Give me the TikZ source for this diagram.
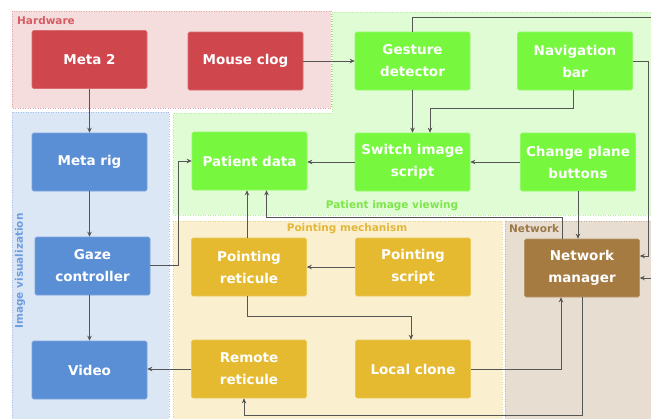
\documentclass[tikz,border=0pt]{standalone}
\usepackage{fontspec}
\setmainfont{DejaVu Sans}
\usetikzlibrary{arrows.meta}
\definecolor{hwfill}{HTML}{F5DCDD}\definecolor{hwline}{HTML}{E3A3A8}\definecolor{hwtext}{HTML}{D65C63}
\definecolor{ivfill}{HTML}{DCE7F5}\definecolor{ivline}{HTML}{A9C4EA}\definecolor{ivtext}{HTML}{6D9DE0}
\definecolor{pvfill}{HTML}{E0FCD5}\definecolor{pvline}{HTML}{B5EFA0}\definecolor{pvtext}{HTML}{7DE648}
\definecolor{pmfill}{HTML}{FAF0D0}\definecolor{pmline}{HTML}{EDD590}\definecolor{pmtext}{HTML}{E3B73A}
\definecolor{nwfill}{HTML}{E8DDD1}\definecolor{nwline}{HTML}{C9B49A}\definecolor{nwtext}{HTML}{9C7847}
\definecolor{cred}{HTML}{CF464D}\definecolor{cblue}{HTML}{5B8FD5}\definecolor{cgreen}{HTML}{77F83F}
\definecolor{cyellow}{HTML}{E5BA31}\definecolor{cbrown}{HTML}{A57B42}\definecolor{lgray}{HTML}{555555}
\begin{document}
\begin{tikzpicture}[x=1pt,y=-1pt,
  box/.style={rounded corners=1.5pt, minimum width=115pt, minimum height=58pt, inner sep=0pt,
    align=center, text=white, font=\bfseries\fontsize{13.5}{22}\selectfont, line width=0.6pt},
  redbox/.style={box, fill=cred, draw=cred!80!white},
  bluebox/.style={box, fill=cblue, draw=cblue!80!white},
  greenbox/.style={box, fill=cgreen, draw=cgreen!80!white},
  yellowbox/.style={box, fill=cyellow, draw=cyellow!80!white},
  brownbox/.style={box, fill=cbrown, draw=cbrown!80!white},
  grp/.style={dotted, line width=0.5pt},
  glabel/.style={font=\bfseries\fontsize{10.5}{12}\selectfont, inner sep=0pt},
  conn/.style={draw=lgray, line width=0.9pt, -{Stealth[length=5pt,width=4.5pt]}},
  plain/.style={draw=lgray, line width=0.9pt}]
\useasboundingbox (0,0) rectangle (651,418);
\fill[white] (0,0) rectangle (651,418);
% groups
\filldraw[grp, fill=pvfill, draw=pvline] (332,12) -- (656,12) -- (656,215) -- (173,215) -- (173,113) -- (332,113) -- cycle;
\filldraw[grp, fill=hwfill, draw=hwline] (12,11) rectangle (331,108);
\filldraw[grp, fill=ivfill, draw=ivline] (12,112) rectangle (169,422);
\filldraw[grp, fill=pmfill, draw=pmline] (173,221) rectangle (502,422);
\filldraw[grp, fill=nwfill, draw=nwline] (505,221) rectangle (656,422);
\node[glabel, text=hwtext, anchor=west] (lhw) at (17,21) {Hardware};
\node[glabel, text=pvtext] (lpv) at (392,206) {Patient image viewing};
\node[glabel, text=pmtext] (lpm) at (347,229) {Pointing mechanism};
\node[glabel, text=nwtext, anchor=west] (lnw) at (509,229) {Network};
\node[glabel, text=ivtext, rotate=90] (liv) at (20,271) {Image visualization};
% nodes
\node[redbox] (meta2) at (89.5,59.5) {Meta 2};
\node[redbox] (mouse) at (245.5,61) {Mouse clog};
\node[greenbox] (gesture) at (412.5,61) {Gesture\\detector};
\node[greenbox] (nav) at (575,61) {Navigation\\bar};
\node[bluebox] (metarig) at (89.5,162) {Meta rig};
\node[greenbox] (patient) at (249.5,161) {Patient data};
\node[greenbox] (switch) at (412.5,162) {Switch image\\script};
\node[greenbox] (change) at (578,162) {Change plane\\buttons};
\node[bluebox] (gaze) at (92.5,266) {Gaze\\controller};
\node[bluebox] (video) at (89.5,370) {Video};
\node[yellowbox] (pret) at (249,267) {Pointing\\reticule};
\node[yellowbox] (pscript) at (413,267) {Pointing\\script};
\node[yellowbox] (rret) at (249,369) {Remote\\reticule};
\node[yellowbox] (lclone) at (413,369) {Local clone};
\node[brownbox] (nm) at (582,268) {Network\\manager};
% connectors
\draw[conn] (mouse) -- (gesture);
\draw[conn] (meta2) -- (metarig);
\draw[conn] (metarig.south) -- (metarig.south |- gaze.north);
\draw[conn] (video.north |- gaze.south) -- (video.north);
\draw[conn] ([yshift=1pt]gaze.east) -- ++(28,0) |- (patient.west);
\draw[conn] ([xshift=-2pt]pret.north) -- ([xshift=-2pt]pret.north |- patient.south);
\draw[conn] ([xshift=-20pt]nm.north) -- ++(0,-21) -| ([xshift=17pt]patient.south);
\draw[conn] (change.south) -- (change.south |- nm.north);
\draw[conn] (gesture.north) -- ++(0,-14) -| ([xshift=13pt,yshift=-10pt]nm.east) -- ([yshift=-10pt]nm.east);
\draw[conn] (nav.east) -| ([xshift=9pt,yshift=12pt]nm.east) -- ([yshift=12pt]nm.east);
\draw[conn] (gesture) -- (switch);
\draw[conn] ([xshift=-2pt]nav.south) -- ++(0,18) -| ([xshift=17.5pt]switch.north);
\draw[conn] (change.west) -- (switch.east |- change.west);
\draw[conn] (switch.west) -- (patient.east |- switch.west);
\draw[conn] (pscript) -- (pret);
\draw[conn] ([xshift=-2pt]pret.south) -- ++(0,20) -| ([xshift=-2pt]lclone.north);
\draw[conn] (lclone.east) -| ([xshift=-21pt]nm.south);
\draw[conn] (nm.south) -- ++(0,118) -| ([xshift=-5pt]rret.south);
\draw[conn] (rret.west) -- (video.east |- rret.west);
\end{tikzpicture}
\end{document}
